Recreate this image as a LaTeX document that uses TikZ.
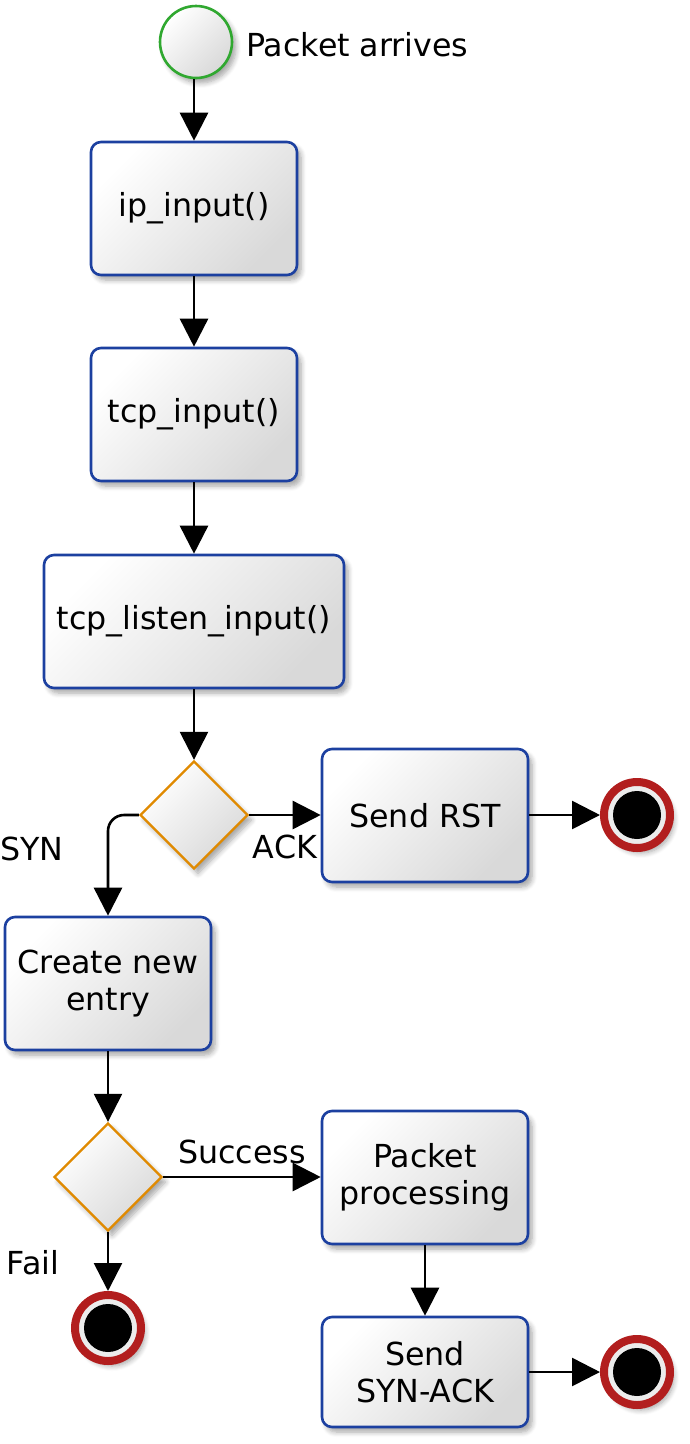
\documentclass[tikz,border=0pt]{standalone}
\usepackage{fontspec}
\setmainfont{DejaVu Sans}
\usetikzlibrary{arrows.meta,shapes.geometric,shadows.blur}
\definecolor{boxblue}{RGB}{28,64,160}
\definecolor{dorange}{RGB}{224,138,0}
\definecolor{sgreen}{RGB}{48,168,48}
\definecolor{ered}{RGB}{178,30,30}
\definecolor{gapgray}{RGB}{236,236,236}
\begin{document}
\begin{tikzpicture}[x=1pt,y=-1pt,
  font=\fontsize{31.7}{37}\selectfont,
  shade/.style={top color=white,bottom color=black!15,shading angle=45},
  shad/.style={blur shadow={shadow xshift=4pt,shadow yshift=-5pt,shadow blur steps=6,shadow opacity=35,shadow blur radius=5pt}},
  box/.style={rectangle,rounded corners=10pt,draw=boxblue,line width=2.6pt,shade,shad,minimum width=206pt,minimum height=133pt,inner sep=0pt,align=center},
  dec/.style={diamond,aspect=1,draw=dorange,line width=2.4pt,shade,shad,minimum width=108pt,minimum height=108pt,inner sep=0pt},
  startn/.style={circle,draw=sgreen,line width=2.6pt,shade,shad,minimum size=72pt,inner sep=0pt},
  endn/.style={circle,draw=ered,line width=8pt,fill=gapgray,shad,minimum size=66pt,inner sep=0pt,
     path picture={\fill[black] (path picture bounding box.center) circle[radius=24pt];}},
  arr/.style={-{Triangle[length=28pt,width=28pt]},line width=2.6pt,black},
  lbl/.style={inner sep=0pt}
]
\useasboundingbox (0,0) rectangle (689,1444);
\node[startn] (start) at (196,42) {};
\node[lbl,anchor=base west] (startlbl) at (246,56) {Packet arrives};
\node[box] (ip) at (194,208.5) {ip\_input()};
\node[box] (tcp) at (194,414.5) {tcp\_input()};
\node[box,minimum width=300pt] (listen) at (194,621.5) {tcp\_listen\_input()};
\node[dec] (d1) at (194,815) {};
\node[box] (rst) at (425,815.5) {Send RST};
\node[endn] (e1) at (637,815) {};
\node[box] (create) at (108,983.5) {Create new\\entry};
\node[dec] (d2) at (108,1177) {};
\node[box] (pp) at (425,1177.5) {Packet\\processing};
\node[endn] (e2) at (108,1328) {};
\node[box,minimum height=110pt] (synack) at (425,1372) {Send\\SYN-ACK};
\node[endn] (e3) at (637,1372) {};

\node[lbl,anchor=base] (syn) at (32,860) {SYN};
\node[lbl,anchor=base] (ack) at (285,858) {ACK};
\node[lbl,anchor=base] (succ) at (242,1163) {Success};
\node[lbl,anchor=base] (fail) at (33,1274) {Fail};

\draw[arr] (ip.north |- start.south) -- (ip.north);
\draw[arr] (ip) -- (tcp);
\draw[arr] (tcp) -- (listen);
\draw[arr] (listen) -- (d1.north);
\draw[arr] (d1.east) -- (rst.west |- d1.east);
\draw[arr] (rst.east |- e1.west) -- (e1.west);
\draw[arr,rounded corners=16pt] (d1.west) -| (create.north);
\draw[arr] (create) -- (d2.north);
\draw[arr] (d2.east) -- (pp.west |- d2.east);
\draw[arr] (d2.south) -- (e2.north);
\draw[arr] (pp) -- (synack);
\draw[arr] (synack.east |- e3.west) -- (e3.west);
\end{tikzpicture}
\end{document}
